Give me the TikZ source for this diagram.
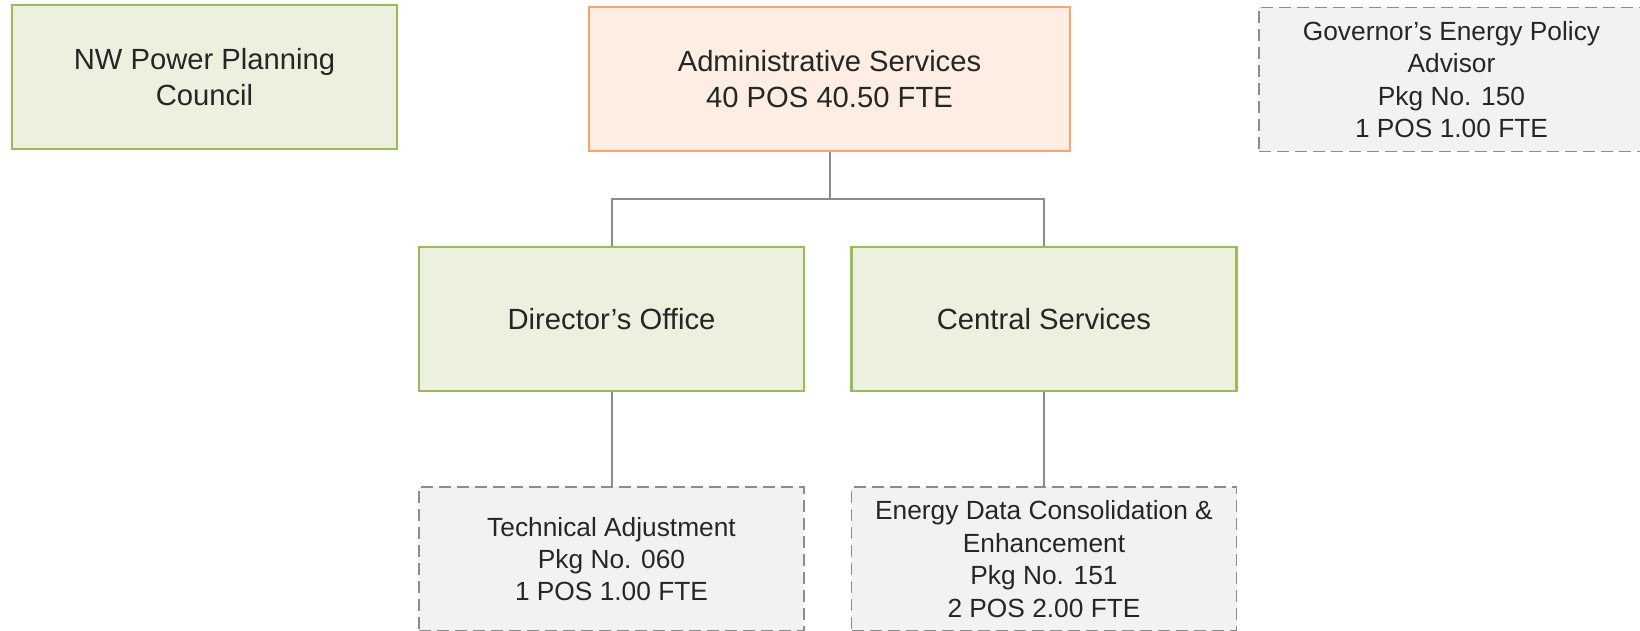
\documentclass[tikz,border=0pt]{standalone}
\usepackage{fontspec}
\setmainfont{Liberation Sans}
\usepackage{tikz}
\definecolor{unitfill}{HTML}{EBF1DE}
\definecolor{unitline}{HTML}{9BBB59}
\definecolor{adminfill}{HTML}{FDEDE2}
\definecolor{adminline}{HTML}{F8A46C}
\definecolor{pkgfill}{HTML}{F2F2F2}
\definecolor{pkgline}{HTML}{8C8C8C}
\definecolor{wire}{HTML}{8C8C8C}
\definecolor{ink}{HTML}{262626}

\begin{document}
\begin{tikzpicture}[x=0.5pt,y=-0.5pt,
  unit/.style={draw=unitline, fill=unitfill, line width=1.1pt, inner sep=0pt,
    minimum width=192.5pt, minimum height=72pt, align=center, text=ink,
    font=\fontsize{14.6}{17.8}\selectfont},
  admin/.style={unit, draw=adminline, fill=adminfill, minimum width=240.5pt},
  pkg/.style={draw=pkgline, fill=pkgfill, line width=0.8pt, dash pattern=on 6pt off 3pt,
    inner sep=0pt, minimum width=192.5pt, minimum height=72pt, align=center, text=ink,
    font=\fontsize{13.15}{16.2}\selectfont},
  wire/.style={draw=wire, line width=1pt}]
\useasboundingbox (0,0) rectangle (1640,631);
\node[unit] (nw) at (204.5,77) {NW Power Planning\\Council};
\node[admin] (admin) at (829.5,79) {Administrative Services\\40 POS 40.50 FTE};
\node[pkg] (gov) at (1451.5,79.5) {Governor’s Energy Policy\\Advisor\\Pkg No. 150\\1 POS 1.00 FTE};
\node[unit] (dir) at (611.5,319) {Director’s Office};
\node[unit] (cen) at (1044,319) {Central Services};
\node[pkg] (tech) at (611.5,559) {Technical Adjustment\\Pkg No. 060\\1 POS 1.00 FTE};
\node[pkg] (edc) at (1044,559) {Energy Data Consolidation \&\\Enhancement\\Pkg No. 151\\2 POS 2.00 FTE};
\coordinate (split) at (829.5,199);
\draw[wire] (admin.south) -- (split) -| (dir.north);
\draw[wire] (split) -| (cen.north);
\draw[wire] (dir.south) -- (tech.north);
\draw[wire] (cen.south) -- (edc.north);
\end{tikzpicture}
\end{document}
